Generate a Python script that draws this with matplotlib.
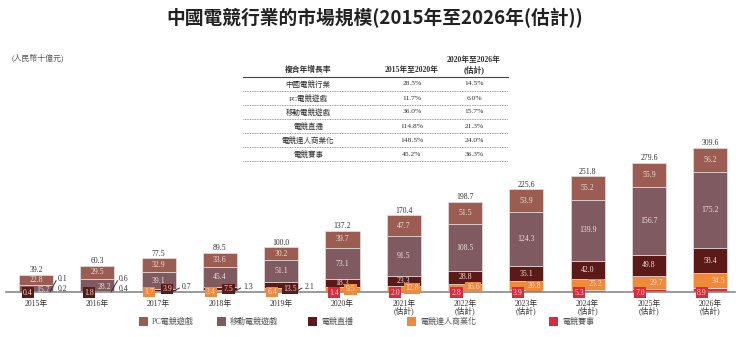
import matplotlib
matplotlib.use('Agg')
import matplotlib.pyplot as plt
from matplotlib.patches import Rectangle
from matplotlib.lines import Line2D

plt.rcParams['font.family'] = ['Liberation Serif', 'Noto Sans CJK TC', 'DejaVu Sans']

# ---------------- data ----------------
years = ['2015年', '2016年', '2017年', '2018年', '2019年', '2020年',
         '2021年', '2022年', '2023年', '2024年', '2025年', '2026年']
is_forecast = [False, False, False, False, False, False,
               True, True, True, True, True, True]
pc = [22.8, 29.5, 32.9, 33.6, 30.2, 39.7, 47.7, 51.5, 53.9, 55.2, 55.9, 56.2]
mobile = [15.7, 28.2, 39.1, 45.4, 51.1, 73.1, 91.5, 108.5, 124.3, 139.9, 156.7, 175.2]
live = [0.4, 1.8, 3.9, 7.5, 13.5, 18.3, 23.3, 28.8, 35.1, 42.0, 49.8, 58.4]
kol = [0.1, 0.6, 1.7, 3.4, 6.4, 9.5, 12.8, 16.6, 20.8, 25.2, 29.7, 34.5]
events = [0.2, 0.4, 0.7, 1.3, 2.1, 1.4, 2.0, 2.8, 3.9, 5.3, 7.0, 8.9]
totals = [39.2, 60.3, 77.5, 89.5, 100.0, 137.2, 170.4, 198.7, 225.6, 251.8, 279.6, 309.6]

series_names = ['PC電競遊戲', '移動電競遊戲', '電競直播', '電競達人商業化', '電競賽事']

title = '中國電競行業的市場規模(2015年至2026年(估計))'
unit_label = '(人民幣十億元)'

table_header = ['複合年增長率', '2015年至2020年', '2020年至2026年\n(估計)']
cagr_rows = ['中國電競行業', 'PC電競遊戲', '移動電競遊戲', '電競直播', '電競達人商業化', '電競賽事']
cagr_2015_2020 = ['28.5%', '11.7%', '36.0%', '114.8%', '148.5%', '45.2%']
cagr_2020_2026 = ['14.5%', '6.0%', '15.7%', '21.3%', '24.0%', '36.3%']

# ---------------- style ----------------
C_PC = '#9b5d52'
C_MOB = '#7f5b61'
C_LIVE = '#5b1a18'
C_KOL = '#ef8a3a'
C_EV = '#da2a3b'
LIGHT = '#eeded8'
DARK = '#333333'
FS = 5.6

W, H = 750, 337
fig = plt.figure(figsize=(W / 100, H / 100), dpi=100)


def fx(px):
    return px / W


def fy(py):
    return 1 - py / H


# axes: baseline at y=292 px, x from 6 to 735 px
ax_top_px = 132
ax = fig.add_axes([fx(6), fy(292), fx(735) - fx(6), fy(ax_top_px) - fy(292)])
px_per_unit_x = 61.3
left_lim = (6 - 36) / px_per_unit_x
right_lim = (735 - 36) / px_per_unit_x
ax.set_xlim(left_lim, right_lim)
ymax = (292 - ax_top_px) / 0.432
ax.set_ylim(0, ymax)
for s in ['top', 'right', 'left']:
    ax.spines[s].set_visible(False)
ax.spines['bottom'].set_color('#8a8a8a')
ax.spines['bottom'].set_linewidth(1.2)
ax.set_yticks([])

bw = 0.555
xs = list(range(len(years)))
b_ev = [0] * len(xs)
b_kol = [events[i] for i in xs]
b_live = [events[i] + kol[i] for i in xs]
b_mob = [b_live[i] + live[i] for i in xs]
b_pc = [b_mob[i] + mobile[i] for i in xs]

ec = '#e6e0de'
ax.bar(xs, events, bw, bottom=b_ev, color=C_EV, edgecolor=ec, linewidth=0.5, label=series_names[4])
ax.bar(xs, kol, bw, bottom=b_kol, color=C_KOL, edgecolor=ec, linewidth=0.5, label=series_names[3])
ax.bar(xs, live, bw, bottom=b_live, color=C_LIVE, edgecolor=ec, linewidth=0.5, label=series_names[2])
ax.bar(xs, mobile, bw, bottom=b_mob, color=C_MOB, edgecolor=ec, linewidth=0.5, label=series_names[1])
ax.bar(xs, pc, bw, bottom=b_pc, color=C_PC, edgecolor=ec, linewidth=0.5, label=series_names[0])

# x tick labels
ax.set_xticks(xs)
ax.set_xticklabels([y + ('\n(估計)' if f else '') for y, f in zip(years, is_forecast)],
                   fontsize=FS, color=DARK, linespacing=0.85)
ax.tick_params(axis='x', length=0, pad=5.5)


def boxed(x, y, text, face, color=LIGHT):
    ax.text(x, y, text, ha='center', va='center', fontsize=FS, color=color, zorder=5,
            bbox=dict(boxstyle='square,pad=0.15', facecolor=face, edgecolor='none'))


for i in xs:
    top = b_pc[i] + pc[i]
    ax.text(i, top + 1.5, f'{totals[i]:.1f}', ha='center', va='bottom', fontsize=FS, color=DARK)
    # PC
    ax.text(i, b_pc[i] + pc[i] / 2, f'{pc[i]:.1f}', ha='center', va='center', fontsize=FS, color=LIGHT)
    # mobile
    if i < 2:
        ax.text(i + 0.12, b_mob[i] + mobile[i] * 0.3, f'{mobile[i]:.1f}', ha='center', va='center',
                fontsize=FS, color=LIGHT)
    else:
        ax.text(i, b_mob[i] + mobile[i] / 2, f'{mobile[i]:.1f}', ha='center', va='center',
                fontsize=FS, color=LIGHT)
    # live
    if i >= 5:
        ax.text(i, b_live[i] + live[i] / 2, f'{live[i]:.1f}', ha='center', va='center',
                fontsize=FS, color=LIGHT)
    elif i < 2:
        boxed(i - 0.13, -1.5, f'{live[i]:.1f}', C_LIVE)
    else:
        boxed(i + 0.14, 7, f'{live[i]:.1f}', C_LIVE)
    # kol
    if i < 2:
        ax.annotate(f'{kol[i]:.1f}', xy=(i + bw / 2, 0), xytext=(7, 9.5), textcoords='offset points',
                    ha='center', va='center', fontsize=FS, color=DARK, annotation_clip=False)
    elif i < 5:
        boxed(i - 0.15, 0, f'{kol[i]:.1f}', C_KOL)
    else:
        boxed(i + 0.13, max(b_kol[i] + kol[i] / 2, 3), f'{kol[i]:.1f}', C_KOL)
    # events
    if i < 2:
        ax.annotate(f'{events[i]:.1f}', xy=(i + bw / 2, 0), xytext=(7, 2.5), textcoords='offset points',
                    ha='center', va='center', fontsize=FS, color=DARK, annotation_clip=False)
        ax.plot([i + bw / 2 - 0.05, i + bw / 2 + 0.05], [0.5, 26], color='#333333', lw=0.7,
                clip_on=False, zorder=6)
    elif i < 5:
        ax.annotate(f'{events[i]:.1f}', xy=(i + bw / 2, 0), xytext=(8, 3.5), textcoords='offset points',
                    ha='center', va='center', fontsize=FS, color=DARK, annotation_clip=False)
        ax.plot([i + bw / 2 - 0.05, i + bw / 2 + 0.06], [0.5, 9], color='#333333', lw=0.7,
                clip_on=False, zorder=6)
    else:
        boxed(i - 0.14, -1.5, f'{events[i]:.1f}', C_EV)

# ---------------- title & unit ----------------
fig.text(0.5, fy(18), title, ha='center', va='center', fontsize=13.5, fontweight='bold',
         color='#222222', family=['Noto Sans CJK TC', 'DejaVu Sans'])
fig.text(fx(12), fy(58), unit_label, ha='left', va='center', fontsize=5.7, color='#555555')

# ---------------- CAGR table ----------------
col_x = [308, 412, 474]
fig.text(fx(col_x[0]), fy(70), table_header[0], ha='center', va='center', fontsize=5.6,
         fontweight='bold', color=DARK)
fig.text(fx(col_x[1]), fy(70), table_header[1], ha='center', va='center', fontsize=5.6,
         fontweight='bold', color=DARK)
fig.text(fx(col_x[2]), fy(65), table_header[2], ha='center', va='center', fontsize=5.6,
         fontweight='bold', color=DARK, linespacing=1.1)
fig.add_artist(Line2D([fx(243), fx(508)], [fy(77), fy(77)], color='#444444', lw=0.8))
for r, (name, a, b) in enumerate(zip(cagr_rows, cagr_2015_2020, cagr_2020_2026)):
    yc = 84 + 14 * r
    fig.text(fx(col_x[0]), fy(yc), name, ha='center', va='center', fontsize=5.4, color=DARK)
    fig.text(fx(col_x[1]), fy(yc), a, ha='center', va='center', fontsize=5.4, color=DARK)
    fig.text(fx(col_x[2]), fy(yc), b, ha='center', va='center', fontsize=5.4, color=DARK)
    fig.add_artist(Line2D([fx(243), fx(508)], [fy(yc + 7), fy(yc + 7)], color='#777777', lw=0.6,
                          linestyle=(0, (1, 1))))

# ---------------- legend ----------------
leg_colors = [C_PC, C_MOB, C_LIVE, C_KOL, C_EV]
leg_x = [139, 217, 308, 407, 549]
for name, c, lx in zip(series_names, leg_colors, leg_x):
    fig.add_artist(Rectangle((fx(lx), fy(326)), fx(9), 9 / H, facecolor=c, edgecolor='none'))
    fig.text(fx(lx + 13), fy(321.5), name, ha='left', va='center', fontsize=5.8, color='#555555')

fig.savefig('out.png', dpi=100)
